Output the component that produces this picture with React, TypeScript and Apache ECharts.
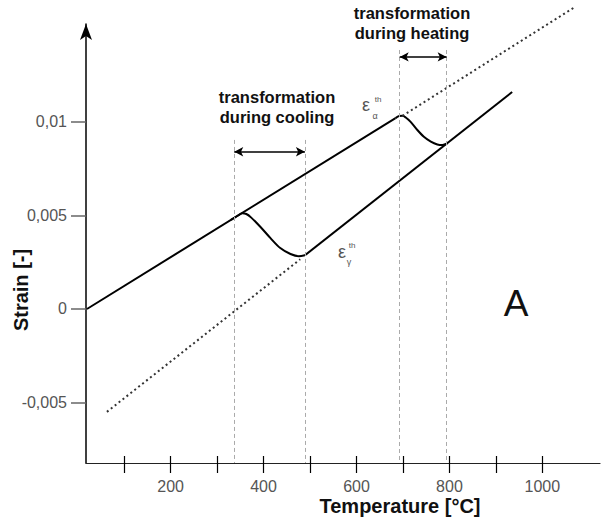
import React, { useEffect, useRef } from "react";
import * as echarts from "echarts";

// Axis ranges and ticks
const xMin = 18;
const xMax = 1124;
const yMin = -0.008235;
const yMax = 0.01524;
const xTickValues = [100, 200, 300, 400, 500, 600, 700, 800, 900, 1000];
const xLabelValues = [200, 400, 600, 800, 1000];
const yTickValues = [-0.005, 0, 0.005, 0.01];

// Curves [temperature °C, strain]
const alphaHeating = [[20, 0], [684, 0.01021]];
const heatingTransform = [
  [684, 0.01021], [692, 0.01032], [699, 0.01033], [706, 0.01024], [716, 0.01002],
  [731, 0.00957], [745, 0.00921], [760, 0.00895], [774, 0.0088], [785, 0.00877], [795, 0.00885],
];
const gammaSolid = [[489, 0.00287], [935, 0.0116]];
const coolingTransform = [
  [330, 0.00477], [345, 0.005], [354, 0.00512], [363, 0.00508], [373, 0.0049],
  [393, 0.0044], [415, 0.00379], [436, 0.00326], [458, 0.00294], [476, 0.00282], [489, 0.00287],
];
const alphaDotted = [[699, 0.01033], [1070, 0.01615]];
const gammaDotted = [[63, -0.0055], [479, 0.00266]];

// Transformation ranges
const coolingRange = [337, 489];
const heatingRange = [693, 794];
const coolingTop = 0.00904;
const heatingTop = 0.01385;
const coolingArrowY = 0.00841;
const heatingArrowY = 0.01348;

const FONT = "'Liberation Sans', Arial, Helvetica, sans-serif";

export default function App() {
  const ref = useRef<HTMLDivElement>(null);
  useEffect(() => {
    if (!ref.current) return;
    const chart = echarts.init(ref.current, null, { renderer: "svg" });
    const dashed = { color: "#aaa", width: 1, type: [4, 3] as any };
    const vline = (x: number, top: number) => [
      { coord: [x, top], lineStyle: dashed, symbol: "none" },
      { coord: [x, yMin], symbol: "none" },
    ];
    const arrow = (a: number, b: number, y: number) => [
      { coord: [a, y], lineStyle: { color: "#000", width: 1.5, type: "solid" } },
      { coord: [b, y] },
    ];
    const solid = { color: "#000", width: 2 };
    const dotted = { color: "#333", width: 2, type: [2, 3] as any };
    const option: any = {
      animation: false,
      backgroundColor: "#fff",
      grid: { left: 86, right: 2, top: 24, bottom: 58, containLabel: false },
      xAxis: [
        {
          type: "value",
          min: xMin,
          max: xMax,
          position: "bottom",
          axisLine: { show: true, onZero: false, lineStyle: { color: "#222", width: 1.2 } },
          axisTick: { show: true, customValues: xTickValues, length: 10, lineStyle: { color: "#000", width: 1.2 } },
          axisLabel: {
            show: true, customValues: xLabelValues, margin: 15, fontSize: 16, color: "#555", fontFamily: FONT,
            formatter: (v: number) => String(v),
          },
          splitLine: { show: false },
        },
        {
          type: "value",
          min: xMin,
          max: xMax,
          position: "bottom",
          axisLine: { show: false, onZero: false },
          axisTick: { show: true, inside: true, customValues: xTickValues, length: 7, lineStyle: { color: "#000", width: 1.2 } },
          axisLabel: { show: false },
          splitLine: { show: false },
        },
      ],
      yAxis: {
        type: "value",
        min: yMin,
        max: yMax,
        axisLine: {
          show: true,
          onZero: false,
          symbol: ["none", "arrow"],
          symbolSize: [9, 16],
          lineStyle: { color: "#000", width: 1.5 },
        },
        axisTick: { show: true, customValues: yTickValues, length: 15, lineStyle: { color: "#666", width: 1.5 } },
        axisLabel: {
          show: true,
          customValues: yTickValues,
          margin: 19,
          fontSize: 16,
          color: "#555",
          fontFamily: FONT,
          formatter: (v: number) => (v === 0 ? "0" : String(v).replace(".", ",")),
        },
        splitLine: { show: false },
      },
      series: [
        { type: "line", data: alphaHeating, symbol: "none", lineStyle: solid, silent: true },
        { type: "line", data: heatingTransform, symbol: "none", smooth: 0.3, lineStyle: solid, silent: true },
        { type: "line", data: gammaSolid, symbol: "none", lineStyle: solid, silent: true },
        { type: "line", data: coolingTransform, symbol: "none", smooth: 0.3, lineStyle: solid, silent: true },
        { type: "line", data: alphaDotted, symbol: "none", lineStyle: dotted, clip: false, silent: true },
        {
          type: "line",
          data: gammaDotted,
          symbol: "none",
          lineStyle: dotted,
          silent: true,
          markLine: {
            silent: true,
            animation: false,
            symbol: ["arrow", "arrow"],
            symbolSize: [7, 9],
            label: { show: false },
            lineStyle: dashed,
            data: [
              vline(coolingRange[0], coolingTop),
              vline(coolingRange[1], coolingTop),
              vline(heatingRange[0], heatingTop),
              vline(heatingRange[1], heatingTop),
              arrow(coolingRange[0], coolingRange[1], coolingArrowY),
              arrow(heatingRange[0], heatingRange[1], heatingArrowY),
            ],
          },
        },
      ],
      graphic: [
        {
          type: "text", x: 277, y: 107,
          style: { text: "transformation\nduring cooling", textAlign: "center", textVerticalAlign: "middle", fontSize: 16.5, fontWeight: "bold", lineHeight: 20, fill: "#111", fontFamily: FONT },
        },
        {
          type: "text", x: 412, y: 23,
          style: { text: "transformation\nduring heating", textAlign: "center", textVerticalAlign: "middle", fontSize: 16.5, fontWeight: "bold", lineHeight: 20, fill: "#111", fontFamily: FONT },
        },
        { type: "text", x: 366, y: 105, style: { text: "ε", textAlign: "center", textVerticalAlign: "middle", fontSize: 18, fill: "#555", fontFamily: FONT } },
        { type: "text", x: 378, y: 99, style: { text: "th", textAlign: "center", textVerticalAlign: "middle", fontSize: 8, fill: "#555", fontFamily: FONT } },
        { type: "text", x: 375, y: 116, style: { text: "α", textAlign: "center", textVerticalAlign: "middle", fontSize: 9, fill: "#555", fontFamily: FONT } },
        { type: "text", x: 342, y: 252, style: { text: "ε", textAlign: "center", textVerticalAlign: "middle", fontSize: 18, fill: "#555", fontFamily: FONT } },
        { type: "text", x: 352, y: 245, style: { text: "th", textAlign: "center", textVerticalAlign: "middle", fontSize: 8, fill: "#555", fontFamily: FONT } },
        { type: "text", x: 349, y: 262, style: { text: "γ", textAlign: "center", textVerticalAlign: "middle", fontSize: 9, fill: "#555", fontFamily: FONT } },
        { type: "text", x: 516, y: 303, style: { text: "A", textAlign: "center", textVerticalAlign: "middle", fontSize: 37, fill: "#111", fontFamily: FONT } },
        {
          type: "text", x: 400, y: 506,
          style: { text: "Temperature [°C]", textAlign: "center", textVerticalAlign: "middle", fontSize: 20, fontWeight: "bold", fill: "#111", fontFamily: FONT },
        },
        {
          type: "text", x: 21, y: 290, rotation: Math.PI / 2,
          style: { text: "Strain [-]", textAlign: "center", textVerticalAlign: "middle", fontSize: 20, fontWeight: "bold", fill: "#111", fontFamily: FONT },
        },
      ],
    };
    chart.setOption(option);
    return () => chart.dispose();
  }, []);
  return (
    <div
      ref={ref}
      style={{ position: "absolute", left: 0, top: 0, width: 602, height: 521, background: "#fff" }}
    />
  );
}
